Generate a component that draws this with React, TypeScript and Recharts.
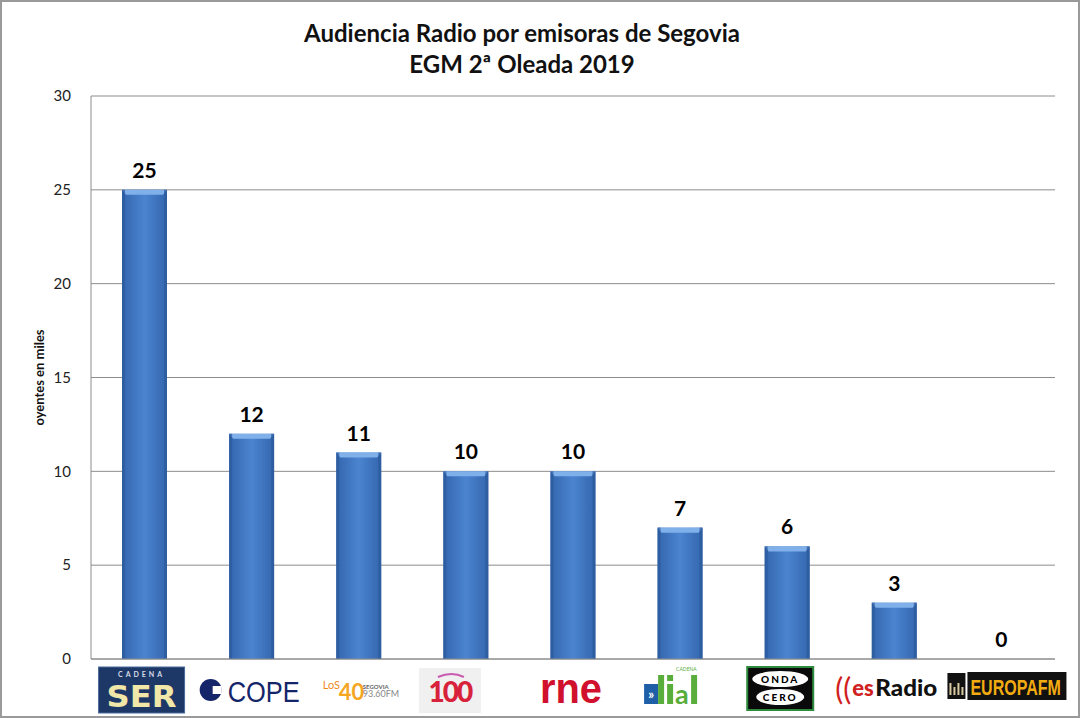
import React from 'react';
import { Bar, BarChart, CartesianGrid, XAxis, YAxis, LabelList, Label } from 'recharts';

const emisoras = ['SER', 'COPE', 'LOS40', 'Cadena 100', 'RNE', 'Dial', 'Onda Cero', 'esRadio', 'Europa FM'];
const oyentes = [25, 12, 11, 10, 10, 7, 6, 3, 0];
const yTicks = [0, 5, 10, 15, 20, 25, 30];

const chartData = emisoras.map((name, i) => ({ name, oyentes: oyentes[i] }));

const FONT = 'Lato, "Open Sans", sans-serif';

// bevelled blue bar like the Excel original
const BevelBar = (props: any) => {
  const { x, y, width, height } = props;
  if (!height || height <= 0) return null;
  const cap = Math.min(5, height / 2);
  return (
    <g>
      <rect x={x} y={y} width={width} height={height} fill="url(#barGrad)" />
      <polygon
        points={`${x},${y} ${x + width},${y} ${x + width - 4},${y + cap} ${x + 4},${y + cap}`}
        fill="#7fb0ea"
      />
      <rect x={x} y={y} width={3} height={height} fill="#2c5a9c" opacity={0.7} />
      <rect x={x + width - 3} y={y} width={3} height={height} fill="#2c5a9c" opacity={0.7} />
    </g>
  );
};

const LogoTick = (props: any) => {
  const { x, y, index } = props;
  const top = y + 8;
  switch (index) {
    case 0:
      return (
        <g>
          <rect x={x - 46} y={top} width={86} height={46} fill="#1d3867" stroke="#4a6a9a" strokeWidth={1} />
          <text x={x - 3} y={top + 10} textAnchor="middle" fontFamily={FONT} fontSize={7} fontWeight={700} fill="#d8dce8" letterSpacing={3}>CADENA</text>
          <text x={x - 38} y={top + 40} fontFamily="'DejaVu Sans', sans-serif" fontSize={31} fontWeight={700} fill="#f1e7a8" textLength={70} lengthAdjust="spacingAndGlyphs">SER</text>
        </g>
      );
    case 1:
      return (
        <g>
          <circle cx={x - 41} cy={top + 23} r={11} fill="#14256a" />
          <rect x={x - 39} y={top + 19} width={9} height={8} fill="#ffffff" />
          <text x={x - 24} y={top + 35} fontFamily="'Liberation Sans', sans-serif" fontSize={29} fill="#14256a" textLength={72} lengthAdjust="spacingAndGlyphs">COPE</text>
        </g>
      );
    case 2:
      return (
        <g>
          <text x={x - 36} y={top + 22} fontFamily={FONT} fontSize={11} fill="#f08a1c">LoS</text>
          <text x={x - 20} y={top + 33} fontFamily={FONT} fontSize={22} fontWeight={700} fill="#f5a623">40</text>
          <text x={x + 4} y={top + 22} fontFamily={FONT} fontSize={6} fontWeight={700} fill="#666">SEGOVIA</text>
          <text x={x + 4} y={top + 30} fontFamily={FONT} fontSize={9} fill="#888">93.60FM</text>
        </g>
      );
    case 3:
      return (
        <g>
          <rect x={x - 47} y={top + 1} width={62} height={45} fill="#f0f0f0" />
          <text x={x - 16} y={top + 35} textAnchor="middle" fontFamily={FONT} fontSize={28} fontWeight={900} fill="#d8213a" letterSpacing={-2}>100</text>
          <path d={`M ${x - 28} ${top + 10} Q ${x - 14} ${top + 4} ${x - 2} ${top + 10}`} stroke="#c85ab0" strokeWidth={2} fill="none" />
        </g>
      );
    case 4:
      return (
        <text x={x - 33} y={top + 36} fontFamily="'Liberation Sans', sans-serif" fontSize={42} fontWeight={700} fill="#d0102c" textLength={62} lengthAdjust="spacingAndGlyphs">rne</text>
      );
    case 5:
      return (
        <g>
          <rect x={x - 36} y={top + 17} width={14} height={20} fill="#1e5fa8" />
          <text x={x - 29} y={top + 32} textAnchor="middle" fontFamily={FONT} fontSize={13} fontWeight={700} fill="#fff">»</text>
          <rect x={x - 22} y={top + 8} width={6} height={29} fill="#59ad3a" />
          <rect x={x - 13} y={top + 8} width={6} height={6} fill="#59ad3a" />
          <rect x={x - 13} y={top + 17} width={6} height={20} fill="#59ad3a" />
          <text x={x - 5} y={top + 37} fontFamily={FONT} fontSize={27} fontWeight={700} fill="#59ad3a">a</text>
          <rect x={x + 11} y={top + 8} width={6} height={29} fill="#59ad3a" />
          <text x={x - 4} y={top + 4} fontFamily={FONT} fontSize={5} fill="#59ad3a">CADENA</text>
        </g>
      );
    case 6:
      return (
        <g>
          <rect x={x - 40} y={top} width={66} height={43} fill="#0a0a0a" stroke="#2e8b3e" strokeWidth={2} />
          <ellipse cx={x - 7} cy={top + 12} rx={28} ry={8} fill="#fff" />
          <ellipse cx={x - 7} cy={top + 30} rx={24} ry={8} fill="#fff" />
          <text x={x - 7} y={top + 16} textAnchor="middle" fontFamily={FONT} fontSize={10} fontWeight={900} fill="#000" letterSpacing={2}>ONDA</text>
          <text x={x - 7} y={top + 34} textAnchor="middle" fontFamily={FONT} fontSize={10} fontWeight={900} fill="#000" letterSpacing={2}>CERO</text>
        </g>
      );
    case 7:
      return (
        <g>
          <text x={x - 59} y={top + 33} fontFamily={FONT} fontSize={30} fill="#d02020">((</text>
          <text x={x - 42} y={top + 29} fontFamily={FONT} fontSize={22} fontWeight={900} fill="#d02020">es</text>
          <text x={x - 19} y={top + 29} fontFamily={FONT} fontSize={22} fontWeight={900} fill="#111" textLength={62} lengthAdjust="spacingAndGlyphs">Radio</text>
        </g>
      );
    case 8:
      return (
        <g>
          <rect x={x - 54} y={top + 6} width={18} height={26} fill="#111" />
          {[0, 1, 2, 3].map((k) => (
            <rect key={k} x={x - 52 + k * 4} y={top + 16 + (k % 2) * 4} width={2} height={12 - (k % 2) * 4} fill="#d9c9a0" />
          ))}
          <rect x={x - 34} y={top + 5} width={99} height={28} fill="#111" />
          <g transform={`translate(${x - 31}, ${top + 28}) scale(1, 1.35)`}>
            <text x={0} y={0} fontFamily="'Liberation Sans', sans-serif" fontSize={16} fontWeight={700} fill="#f2ab10">EUROPAFM</text>
          </g>
        </g>
      );
    default:
      return null;
  }
};

export default function App() {
  return (
    <div
      style={{
        position: 'absolute',
        top: 0,
        left: 0,
        width: 1080,
        height: 718,
        background: '#fff',
        boxSizing: 'border-box',
        border: '2px solid #9a9a9a',
        fontFamily: FONT,
      }}
    >
      <div
        style={{
          position: 'absolute',
          top: 15,
          left: 0,
          width: 1040,
          textAlign: 'center',
          fontWeight: 700,
          fontSize: 24,
          lineHeight: '31px',
          color: '#111',
        }}
      >
        Audiencia Radio por emisoras de Segovia
        <br />
        EGM 2ª Oleada 2019
      </div>
      <div style={{ position: 'absolute', top: -2, left: -2 }}>
        <BarChart
          width={1080}
          height={718}
          data={chartData}
          margin={{ top: 96, right: 25, left: 0, bottom: 0 }}
          barSize={45}
        >
          <defs>
            <linearGradient id="barGrad" x1="0" y1="0" x2="1" y2="0">
              <stop offset="0%" stopColor="#3366ad" />
              <stop offset="50%" stopColor="#4c84d0" />
              <stop offset="100%" stopColor="#3366ad" />
            </linearGradient>
          </defs>
          <CartesianGrid vertical={false} stroke="#8c8c8c" />
          <XAxis
            dataKey="name"
            height={59}
            tickLine={false}
            tickSize={0}
            tickMargin={0}
            axisLine={{ stroke: '#8c8c8c' }}
            interval={0}
            tick={<LogoTick />}
          />
          <YAxis
            width={91}
            domain={[0, 30]}
            ticks={yTicks}
            tickLine={false}
            axisLine={{ stroke: '#8c8c8c' }}
            tick={{ fill: '#222', fontSize: 15, fontFamily: FONT }}
            tickMargin={14}
          >
            <Label
              value="oyentes en miles"
              angle={-90}
              position="insideLeft"
              offset={39}
              style={{ textAnchor: 'middle', fontSize: 13, fontWeight: 700, fill: '#111', fontFamily: FONT }}
            />
          </YAxis>
          <Bar dataKey="oyentes" shape={<BevelBar />} isAnimationActive={false}>
            <LabelList
              dataKey="oyentes"
              position="top"
              offset={12}
              style={{ fontSize: 21, fontWeight: 700, fill: '#000', fontFamily: FONT }}
            />
          </Bar>
        </BarChart>
      </div>
    </div>
  );
}
